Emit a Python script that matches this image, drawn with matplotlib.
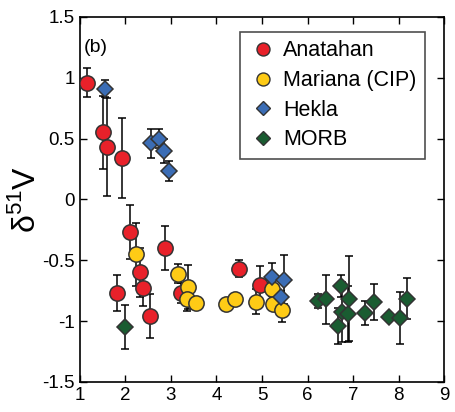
import matplotlib
matplotlib.use("Agg")
import matplotlib.pyplot as plt
from matplotlib.lines import Line2D

plt.rcParams['font.family'] = ['Liberation Sans', 'DejaVu Sans']
plt.rcParams['mathtext.fontset'] = 'custom'
plt.rcParams['mathtext.rm'] = 'Liberation Sans'

# Anatahan
ana_x = [1.16, 1.51, 1.59, 1.92, 2.11, 2.33, 2.38, 1.81, 2.55, 2.87, 3.22, 4.50, 4.96]
ana_y = [0.96, 0.55, 0.43, 0.34, -0.27, -0.60, -0.73, -0.77, -0.955, -0.40, -0.77, -0.57, -0.70]
ana_e = [0.12, 0.30, 0.40, 0.33, 0.22, 0.20, 0.15, 0.15, 0.18, 0.18, 0.08, 0.07, 0.15]

# Mariana (CIP)
mar_x = [2.23, 3.15, 3.38, 3.35, 3.55, 4.22, 4.41, 4.86, 5.21, 5.25, 5.45]
mar_y = [-0.45, -0.61, -0.72, -0.82, -0.85, -0.86, -0.82, -0.84, -0.74, -0.86, -0.91]
mar_e = [0.26, 0.08, 0.18, 0.10, 0.03, 0.03, 0.03, 0.10, 0.05, 0.05, 0.10]

# Hekla
hek_x = [1.56, 2.56, 2.73, 2.85, 2.96, 5.21, 5.48, 5.41]
hek_y = [0.91, 0.46, 0.50, 0.40, 0.235, -0.64, -0.66, -0.80]
hek_e = [0.07, 0.12, 0.08, 0.10, 0.08, 0.12, 0.20, 0.05]

# MORB
morb_x = [2.00, 6.22, 6.40, 6.73, 6.90, 6.75, 6.88, 6.68, 7.26, 7.47, 7.78, 8.02, 8.19]
morb_y = [-1.05, -0.835, -0.82, -0.715, -0.815, -0.925, -0.94, -1.04, -0.935, -0.845, -0.965, -0.975, -0.815]
morb_e = [0.18, 0.06, 0.20, 0.09, 0.35, 0.25, 0.23, 0.15, 0.10, 0.15, 0.03, 0.215, 0.17]

groups = [
    ("Anatahan", ana_x, ana_y, ana_e, "o", "#e8212a", 11),
    ("Mariana (CIP)", mar_x, mar_y, mar_e, "o", "#fecb16", 11),
    ("Hekla", hek_x, hek_y, hek_e, "D", "#3b6db5", 8.5),
    ("MORB", morb_x, morb_y, morb_e, "D", "#1a5c31", 8.5),
]

fig = plt.figure(figsize=(4.56, 4.12), dpi=100)
ax = fig.add_axes([0.175, 0.073, 0.799, 0.886])

# error bars first, markers on top
for name, x, y, e, m, c, s in groups:
    ax.errorbar(x, y, yerr=e, fmt="none", ecolor="black", elinewidth=1.1,
                capsize=3, capthick=1.1, zorder=1)

handles = []
for name, x, y, e, m, c, s in groups:
    ax.plot(x, y, linestyle="none", marker=m, markersize=s, markerfacecolor=c,
            markeredgecolor="#333333", markeredgewidth=1.1, zorder=3)
    handles.append(Line2D([], [], linestyle="none", marker=m,
                          markersize=s * 0.85, markerfacecolor=c,
                          markeredgecolor="#333333", markeredgewidth=1.0,
                          label=name))

ax.set_xlim(1, 9)
ax.set_ylim(-1.5, 1.5)
ax.set_xticks(range(1, 10))
ax.set_yticks([-1.5, -1, -0.5, 0, 0.5, 1, 1.5])
ax.set_yticklabels(["-1.5", "-1", "-0.5", "0", "0.5", "1", "1.5"])
ax.tick_params(direction="in", top=True, right=True, labelsize=13.5,
               length=5, width=1)
ax.tick_params(axis="x", pad=4)
for sp in ax.spines.values():
    sp.set_linewidth(1.2)

ax.set_ylabel("δ$^{51}$V", fontsize=23, labelpad=0)
ax.text(0.012, 0.915, "(b)", transform=ax.transAxes, fontsize=14, va="center")

leg = ax.legend(handles=handles, loc="upper right", fontsize=15.5,
                frameon=True, fancybox=False, edgecolor="#222222",
                handletextpad=0.3, borderpad=0.4, labelspacing=0.4,
                handlelength=1.3, borderaxespad=0,
                bbox_to_anchor=(0.948, 0.959))
leg.get_frame().set_linewidth(1.2)

fig.savefig("out.png", dpi=100)
